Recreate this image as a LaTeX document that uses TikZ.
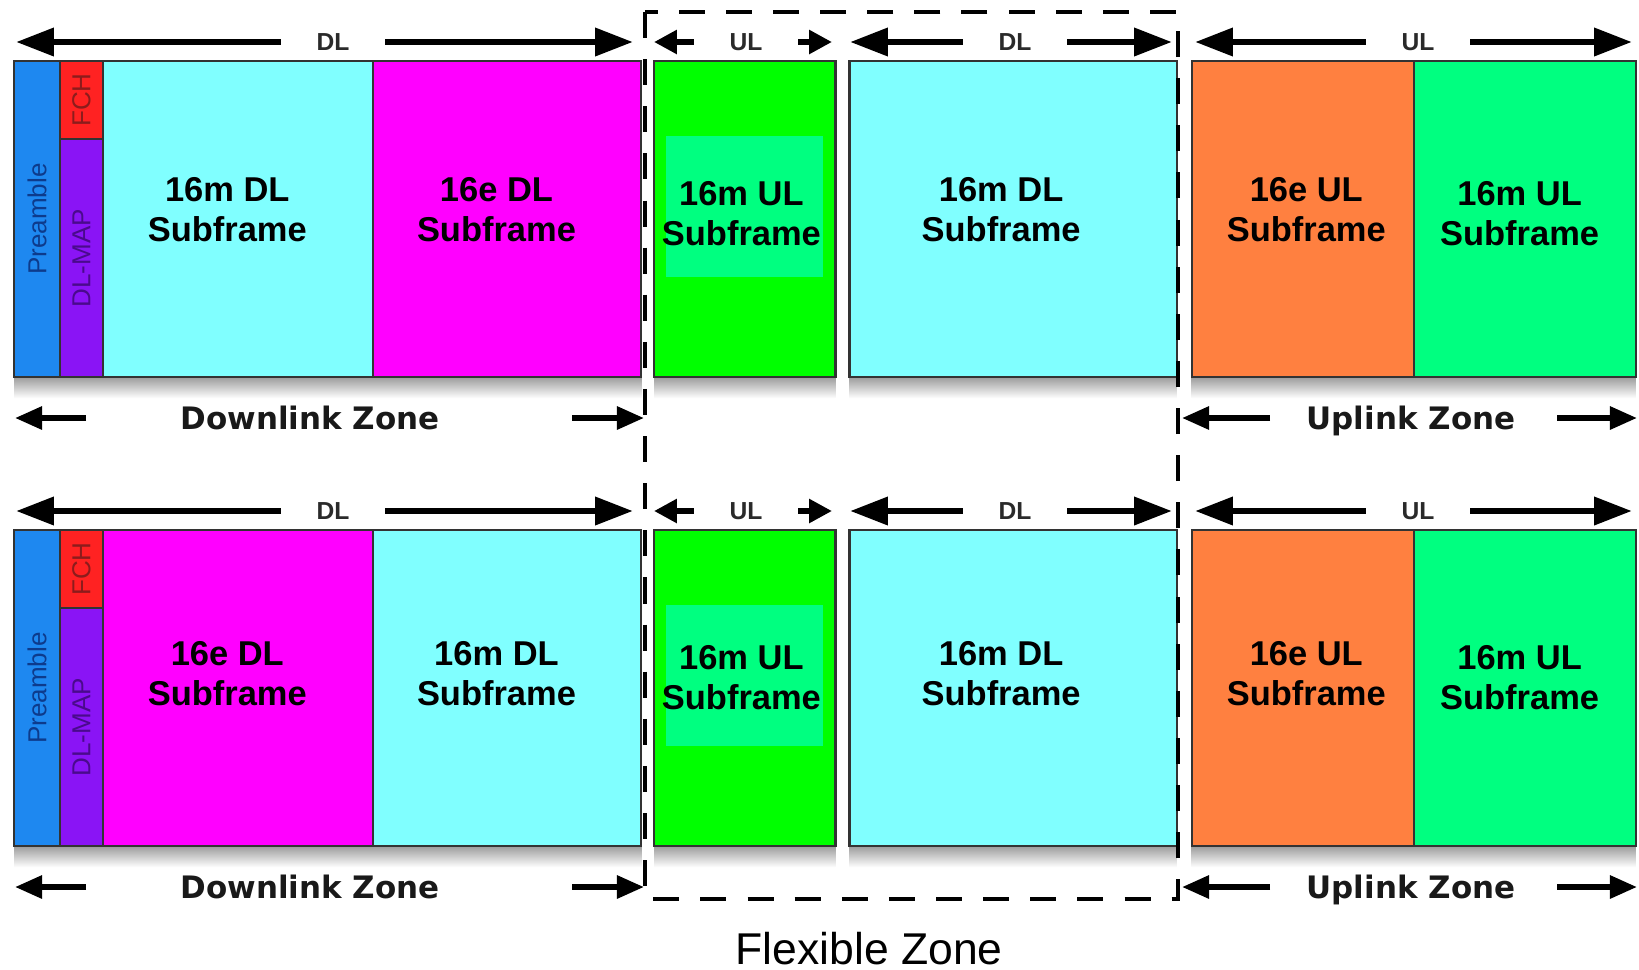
\documentclass[tikz,border=0pt]{standalone}
\usepackage{fontspec}
\setmainfont{Liberation Sans}
\newfontfamily\zonefont{DejaVu Sans}
\usetikzlibrary{arrows.meta,positioning,backgrounds}
\definecolor{PreBlue}{HTML}{1E88F0}
\definecolor{PreText}{HTML}{0D3B8C}
\definecolor{FchRed}{HTML}{FF2222}
\definecolor{FchText}{HTML}{8C1C1C}
\definecolor{MapPurple}{HTML}{8A14F5}
\definecolor{MapText}{HTML}{4A0A8C}
\definecolor{SubCyan}{HTML}{80FFFF}
\definecolor{SubMagenta}{HTML}{FF00FF}
\definecolor{UlGreen}{HTML}{00FF00}
\definecolor{UlSpring}{HTML}{00FF80}
\definecolor{UlOrange}{HTML}{FF8040}
\definecolor{FrameGray}{HTML}{333333}
\definecolor{LabelGray}{HTML}{2A2A2A}
\tikzset{
  SB/.style={rectangle,draw=FrameGray,line width=0.6pt,
             inner sep=0pt,outer sep=0pt,minimum height=3.16cm},
  sPre/.style={SB,fill=PreBlue,minimum width=0.46cm},
  sFch/.style={SB,fill=FchRed,minimum width=0.43cm,minimum height=0.78cm},
  sMap/.style={SB,fill=MapPurple,minimum width=0.43cm,minimum height=2.38cm},
  sUlg/.style={SB,fill=UlGreen,minimum width=1.81cm},
  sInner/.style={rectangle,fill=UlSpring,inner sep=0pt,
                 minimum width=1.57cm,minimum height=1.41cm},
  shd/.style={top color=black!45,bottom color=white,draw=none},
  lbl/.style={align=center,font=\fontsize{9.8}{11.4}\selectfont\bfseries},
  vlbl/.style={rotate=90,inner sep=0pt,font=\fontsize{7.4}{8}\selectfont},
  spanlbl/.style={inner xsep=0.35cm,inner ysep=0pt,text=LabelGray,
                  font=\fontsize{7}{8}\selectfont\bfseries},
  zonelbl/.style={inner sep=0pt,anchor=base,text=black!90,
                  font={\fontsize{8.8}{10}\zonefont\bfseries}},
  flexlbl/.style={inner sep=0pt,font=\fontsize{12.66}{14}\selectfont},
  bigarr/.style={-{Triangle[length=10.8pt,width=7.7pt]},line width=1.9pt},
  smallarr/.style={-{Triangle[length=6.5pt,width=6.5pt]},line width=1.9pt},
  zonearr/.style={-{Triangle[length=7.7pt,width=6.3pt]},line width=1.6pt},
  flex/.style={draw=black,line width=1.1pt,dash pattern=on 7.4pt off 6pt}
}
\begin{document}
\begin{tikzpicture}[x=0.01cm,y=-0.01cm]
  \useasboundingbox (0,0) rectangle (1639,969);

  \foreach \r/\dy/\ca/\ta/\cb/\tb/\ls in {1/0/SubCyan/16m DL/SubMagenta/16e DL/2.6pt,
                                         2/469/SubMagenta/16e DL/SubCyan/16m DL/4pt}{
    % frame blocks
    \node[sPre,anchor=north west] (pre\r) at (14,{61+\dy}) {};
    \node[sFch,anchor=north west] (fch\r) at (pre\r.north east) {};
    \node[sMap,below=0pt of fch\r] (map\r) {};
    \node[SB,fill=\ca,minimum width=2.695cm,anchor=north west] (sfa\r) at (fch\r.north east) {};
    \node[SB,fill=\cb,minimum width=2.685cm,right=0pt of sfa\r] (sfb\r) {};
    \node[sUlg,right=0.13cm of sfb\r] (ulg\r) {};
    \node[sInner] (ulgi\r) at ([yshift=3.6pt]ulg\r.center) {};
    \node[SB,fill=SubCyan,minimum width=3.27cm,right=0.14cm of ulg\r] (dlf\r) {};
    \node[SB,fill=UlOrange,minimum width=2.22cm,right=0.15cm of dlf\r] (ule\r) {};
    \node[SB,fill=UlSpring,minimum width=2.22cm,right=0pt of ule\r] (ulm\r) {};

    \begin{scope}[on background layer]
      \shade[shd] ([yshift=1pt]pre\r.south west) rectangle ([yshift=-6pt]sfb\r.south east);
      \shade[shd] ([yshift=1pt]ulg\r.south west) rectangle ([yshift=-6pt]ulg\r.south east);
      \shade[shd] ([yshift=1pt]dlf\r.south west) rectangle ([yshift=-6pt]dlf\r.south east);
      \shade[shd] ([yshift=1pt]ule\r.south west) rectangle ([yshift=-6pt]ulm\r.south east);
    \end{scope}

    % block texts
    \node[vlbl,text=PreText] at (pre\r) {Preamble};
    \node[vlbl,text=FchText] at (fch\r) {FCH};
    \node[vlbl,text=MapText] at (map\r) {DL-MAP};
    \node[lbl] at ([xshift=-3pt,yshift=\ls]sfa\r.center) {\ta\\Subframe};
    \node[lbl] at ([xshift=-3pt,yshift=\ls]sfb\r.center) {\tb\\Subframe};
    \node[lbl] at ([xshift=-1pt,yshift=\ls-1pt]ulg\r.center) {16m UL\\Subframe};
    \node[lbl] at ([xshift=-3.4pt,yshift=\ls]dlf\r.center) {16m DL\\Subframe};
    \node[lbl] at ([xshift=1pt,yshift=\ls]ule\r.center) {16e UL\\Subframe};
    \node[lbl] at ([xshift=-1.5pt,yshift=\ls-1pt]ulm\r.center) {16m UL\\Subframe};

    % DL / UL spans
    \node[spanlbl] (dla\r) at (333,{42+\dy}) {DL};
    \node[spanlbl] (ulf\r) at (746,{42+\dy}) {UL};
    \node[spanlbl] (dlf\r l) at (1015,{42+\dy}) {DL};
    \node[spanlbl] (ulb\r) at (1418,{42+\dy}) {UL};
    \coordinate (dlaL\r) at (16,{42+\dy});
    \coordinate (dlaR\r) at (633,{42+\dy});
    \coordinate (ulfL\r) at (654,{42+\dy});
    \coordinate (ulfR\r) at (832,{42+\dy});
    \coordinate (dlfL\r) at (850,{42+\dy});
    \coordinate (dlfR\r) at (1172,{42+\dy});
    \coordinate (ulbL\r) at (1195,{42+\dy});
    \coordinate (ulbR\r) at (1632,{42+\dy});
    \draw[bigarr] (dla\r.west) -- (dlaL\r);
    \draw[bigarr] (dla\r.east) -- (dlaR\r);
    \draw[smallarr] (ulf\r.west) -- (ulfL\r);
    \draw[smallarr] (ulf\r.east) -- (ulfR\r);
    \draw[bigarr] (dlf\r l.west) -- (dlfL\r);
    \draw[bigarr] (dlf\r l.east) -- (dlfR\r);
    \draw[bigarr] (ulb\r.west) -- (ulbL\r);
    \draw[bigarr] (ulb\r.east) -- (ulbR\r);

    % zones
    \node[zonelbl] (dz\r) at (310,{429+\dy}) {Downlink Zone};
    \node[zonelbl] (uz\r) at (1411,{429+\dy}) {Uplink Zone};
    \coordinate (dzA\r) at (86,{418+\dy});
    \coordinate (dzB\r) at (15,{418+\dy});
    \coordinate (dzC\r) at (572,{418+\dy});
    \coordinate (dzD\r) at (644,{418+\dy});
    \coordinate (uzA\r) at (1270,{418+\dy});
    \coordinate (uzB\r) at (1182,{418+\dy});
    \coordinate (uzC\r) at (1557,{418+\dy});
    \coordinate (uzD\r) at (1637,{418+\dy});
    \draw[zonearr] (dzA\r) -- (dzB\r);
    \draw[zonearr] (dzC\r) -- (dzD\r);
    \draw[zonearr] (uzA\r) -- (uzB\r);
    \draw[zonearr] (uzC\r) -- (uzD\r);
  }

  % flexible zone
  \coordinate (fzNW) at (645,12);
  \coordinate (fzSE) at (1178,899);
  \draw[flex] (fzNW) rectangle (fzSE);
  \node[flexlbl] (fzlbl) at (869,949) {Flexible Zone};
\end{tikzpicture}
\end{document}
